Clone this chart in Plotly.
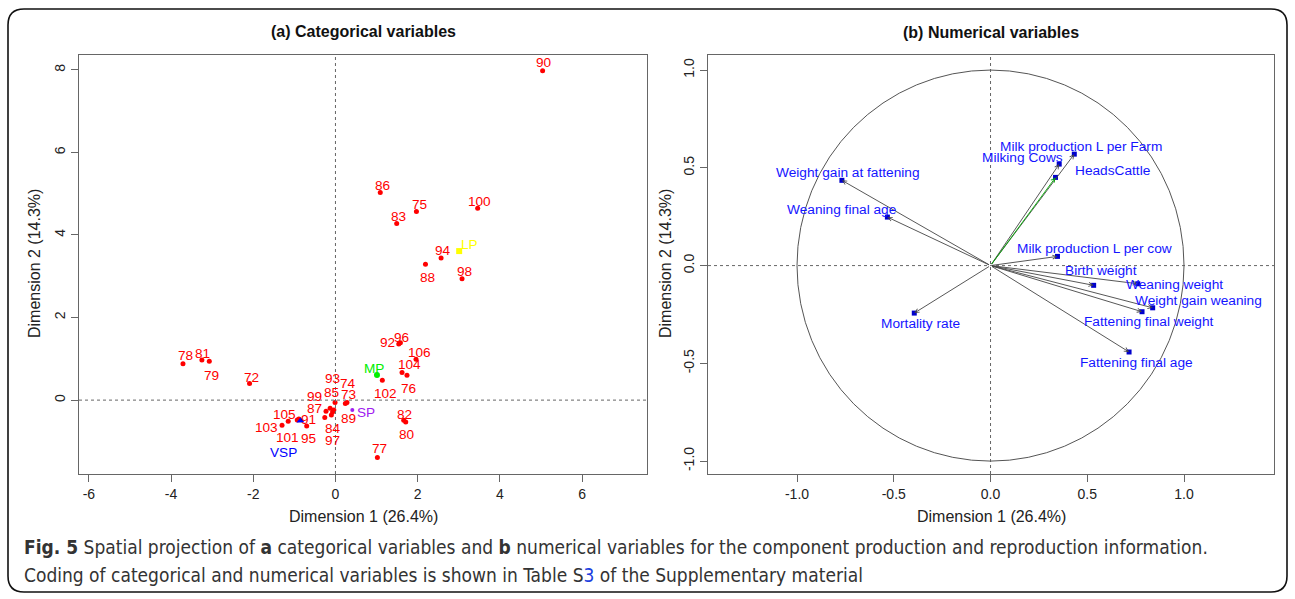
import plotly.graph_objects as go

W, H = 1295, 599
FONT = "Liberation Sans, Arial, sans-serif"

# ---------------- Panel (a): categorical variables ----------------
cat_labels = ["90", "86", "75", "83", "100", "94", "88", "98", "78", "81", "79", "72",
              "92", "96", "106", "104", "76", "102", "93", "74", "85", "73", "99", "87",
              "89", "84", "97", "91", "95", "105", "103", "101", "82", "80", "77"]
cat_x = [5.04, 1.09, 1.97, 1.49, 3.46, 2.57, 2.19, 3.08, -3.71, -3.25, -3.07, -2.09,
         1.54, 1.58, 1.96, 1.62, 1.74, 1.14, -0.01, 0.28, -0.04, 0.24, -0.23, -0.13,
         -0.10, -0.26, -0.07, -0.89, -0.70, -1.15, -1.30, -0.93, 1.66, 1.71, 1.02]
cat_y = [7.98, 5.03, 4.57, 4.28, 4.65, 3.44, 3.29, 2.94, 0.88, 0.97, 0.94, 0.40,
         1.36, 1.39, 0.99, 0.67, 0.60, 0.48, -0.06, -0.06, -0.24, -0.08, -0.27, -0.20,
         -0.36, -0.42, -0.29, -0.46, -0.63, -0.51, -0.61, -0.48, -0.49, -0.53, -1.39]
# label offsets in pixels (repelled text placement)
cat_dx = [1, 2, 3, 2, 2, 2, 2, 2, 3, 1, 2, 2,
          -11, 1, 3, 7, 2, 3, -3, 1, -2, 3, -12, -16,
          17, 8, 0, 10, 2, -4, -16, -10, 1, 1, 2]
cat_dy = [8, 7, 7, 7, 7, 8, -13, 7, 8, 7, -14, 6,
          1, 5, 7, 8, -13, -13, 24, 19, 18, 9, 15, 0,
          -4, -11, -28, 0, -12, 7, -2, -18, 6, -13, 9]

mod_labels = ["LP", "MP", "SP", "VSP"]
mod_x = [3.01, 1.01, 0.41, -0.85]
mod_y = [3.61, 0.61, -0.24, -0.50]
mod_colors = ["#FFFF00", "#00EE00", "#A020F0", "#0000FF"]
mod_symbols = ["square", "circle", "circle", "triangle-up"]
mod_sizes = [6, 6, 4, 7]
mod_dx = [10, -3, 14, -17]
mod_dy = [7, 6, -2, -32]

# ---------------- Panel (b): numerical variables ----------------
num_labels = ["Milk production L per Farm", "Milking Cows", "HeadsCattle",
              "Weight gain at fattening", "Weaning final age", "Milk production L per cow",
              "Birth weight", "Weaning weight", "Weight gain weaning",
              "Fattening final weight", "Fattening final age", "Mortality rate"]
num_x = [0.433, 0.355, 0.336, -0.768, -0.533, 0.346, 0.533, 0.761, 0.838, 0.783, 0.716, -0.394]
num_y = [0.570, 0.519, 0.451, 0.436, 0.248, 0.047, -0.101, -0.093, -0.216, -0.236, -0.442, -0.243]
num_arrow_colors = ["#444444", "#444444", "#00B000"] + ["#444444"] * 9
num_dx = [7, -37, 57, 6, -46, 37, 7, 37, 46, 7, 7, 6]
num_dy = [8, 7, 7, 8, 8, 8, 15, -1, 7, -10, -10, -10]

x1_ticks = [-6, -4, -2, 0, 2, 4, 6]
y1_ticks = [0, 2, 4, 6, 8]
x2_ticks = [-1.0, -0.5, 0.0, 0.5, 1.0]
y2_ticks = [-1.0, -0.5, 0.0, 0.5, 1.0]

fig = go.Figure()

# categorical points
fig.add_trace(go.Scatter(x=cat_x, y=cat_y, mode="markers", xaxis="x", yaxis="y",
                         marker=dict(color="#FF0000", size=5), hoverinfo="skip",
                         showlegend=False))
for i in range(len(mod_labels)):
    fig.add_trace(go.Scatter(x=[mod_x[i]], y=[mod_y[i]], mode="markers", xaxis="x", yaxis="y",
                             marker=dict(color=mod_colors[i], size=mod_sizes[i],
                                         symbol=mod_symbols[i]),
                             hoverinfo="skip", showlegend=False))

# numerical endpoints
fig.add_trace(go.Scatter(x=num_x, y=num_y, mode="markers", xaxis="x2", yaxis="y2",
                         marker=dict(color="#0000CC", size=5, symbol="square"),
                         hoverinfo="skip", showlegend=False))

annotations = []
for lab, x, y, dx, dy in zip(cat_labels, cat_x, cat_y, cat_dx, cat_dy):
    annotations.append(dict(x=x, y=y, xref="x", yref="y", text=lab, showarrow=False,
                            xshift=dx, yshift=dy, xanchor="center", yanchor="middle",
                            font=dict(family=FONT, size=13.6, color="#FF0000")))
for lab, x, y, dx, dy, c in zip(mod_labels, mod_x, mod_y, mod_dx, mod_dy, mod_colors):
    annotations.append(dict(x=x, y=y, xref="x", yref="y", text=lab, showarrow=False,
                            xshift=dx, yshift=dy, xanchor="center", yanchor="middle",
                            font=dict(family=FONT, size=13.6, color=c)))

# arrows
for x, y, c in zip(num_x, num_y, num_arrow_colors):
    annotations.append(dict(x=x, y=y, xref="x2", yref="y2", ax=0, ay=0,
                            axref="x2", ayref="y2", text="", showarrow=True,
                            arrowhead=5, arrowsize=0.9, arrowwidth=0.9, arrowcolor=c))
for lab, x, y, dx, dy in zip(num_labels, num_x, num_y, num_dx, num_dy):
    annotations.append(dict(x=x, y=y, xref="x2", yref="y2", text=lab, showarrow=False,
                            xshift=dx, yshift=dy, xanchor="center", yanchor="middle",
                            font=dict(family=FONT, size=13.7, color="#1414FF")))

# titles
annotations.append(dict(x=363 / W, y=1 - 31 / H, xref="paper", yref="paper",
                        text="<b>(a) Categorical variables</b>", showarrow=False,
                        xanchor="center", yanchor="middle",
                        font=dict(family=FONT, size=16, color="#111")))
annotations.append(dict(x=991 / W, y=1 - 32 / H, xref="paper", yref="paper",
                        text="<b>(b) Numerical variables</b>", showarrow=False,
                        xanchor="center", yanchor="middle",
                        font=dict(family=FONT, size=16, color="#111")))
# axis titles
for xc in (363, 991):
    annotations.append(dict(x=xc / W, y=1 - 516 / H, xref="paper", yref="paper",
                            text="Dimension 1 (26.4%)", showarrow=False,
                            xanchor="center", yanchor="middle",
                            font=dict(family=FONT, size=16, color="#222")))
for xc in (34, 665):
    annotations.append(dict(x=xc / W, y=1 - 264 / H, xref="paper", yref="paper",
                            text="Dimension 2 (14.3%)", showarrow=False, textangle=-90,
                            xanchor="center", yanchor="middle",
                            font=dict(family=FONT, size=16, color="#222")))

# caption
CAP_FONT = "Liberation Sans Narrow, DejaVu Sans Condensed, Open Sans, sans-serif"
annotations.append(dict(x=22 / W, y=1 - 547 / H, xref="paper", yref="paper",
                        text="<b>Fig. 5</b> Spatial projection of <b>a</b> categorical variables and "
                             "<b>b</b> numerical variables for the component production and "
                             "reproduction information.",
                        showarrow=False, xanchor="left", yanchor="middle",
                        font=dict(family=CAP_FONT, size=19, color="#333")))
annotations.append(dict(x=22 / W, y=1 - 575 / H, xref="paper", yref="paper",
                        text="Coding of categorical and numerical variables is shown in Table "
                             "S<span style='color:#2040E0'>3</span> of the Supplementary material",
                        showarrow=False, xanchor="left", yanchor="middle",
                        font=dict(family=CAP_FONT, size=19, color="#333")))

shapes = []
# zero reference lines
for xr, yr in (("x", "y"), ("x2", "y2")):
    shapes.append(dict(type="line", xref=xr, yref=yr + " domain", x0=0, x1=0, y0=0, y1=1,
                       line=dict(color="#666", width=1, dash="dot")))
    shapes.append(dict(type="line", xref=xr + " domain", yref=yr, x0=0, x1=1, y0=0, y1=0,
                       line=dict(color="#666", width=1, dash="dot")))
# unit circle
shapes.append(dict(type="circle", xref="x2", yref="y2", x0=-1, y0=-1, x1=1, y1=1,
                   line=dict(color="#555", width=1)))
# outer rounded frame
L, T, R, B, r = 8, 9, 1287, 592, 16
def px(v): return v / W
def py(v): return 1 - v / H
path = (f"M {px(L + r)},{py(T)} L {px(R - r)},{py(T)} Q {px(R)},{py(T)} {px(R)},{py(T + r)} "
        f"L {px(R)},{py(B - r)} Q {px(R)},{py(B)} {px(R - r)},{py(B)} "
        f"L {px(L + r)},{py(B)} Q {px(L)},{py(B)} {px(L)},{py(B - r)} "
        f"L {px(L)},{py(T + r)} Q {px(L)},{py(T)} {px(L + r)},{py(T)} Z")
shapes.append(dict(type="path", xref="paper", yref="paper", path=path,
                   line=dict(color="#111", width=1.6)))

axis_common = dict(showgrid=False, zeroline=False, showline=True, mirror=True,
                   linecolor="#666", linewidth=1, ticks="outside", ticklen=7,
                   tickcolor="#666", tickfont=dict(family=FONT, size=14, color="#222"))

ydom = [1 - 474 / H, 1 - 55 / H]
fig.update_layout(
    width=W, height=H, margin=dict(l=0, r=0, t=0, b=0),
    paper_bgcolor="white", plot_bgcolor="white", showlegend=False,
    xaxis=dict(domain=[79 / W, 647 / W], range=[-6.24, 7.58], tickvals=x1_ticks,
               ticktext=[str(v) for v in x1_ticks], anchor="y", **axis_common),
    yaxis=dict(domain=ydom, range=[-1.79, 8.36], tickvals=y1_ticks,
               ticktext=[str(v) for v in y1_ticks], tickangle=-90, anchor="x", **axis_common),
    xaxis2=dict(domain=[708 / W, 1274 / W], range=[-1.46, 1.465], tickvals=x2_ticks,
                ticktext=[f"{v:.1f}" for v in x2_ticks], anchor="y2", **axis_common),
    yaxis2=dict(domain=ydom, range=[-1.066, 1.077], tickvals=y2_ticks,
                ticktext=[f"{v:.1f}" for v in y2_ticks], tickangle=-90, anchor="x2",
                **axis_common),
    annotations=annotations, shapes=shapes,
)

fig.write_html("out.html", config={"displayModeBar": False},
               post_script="document.body.style.margin='0';document.body.style.overflow='hidden';")
